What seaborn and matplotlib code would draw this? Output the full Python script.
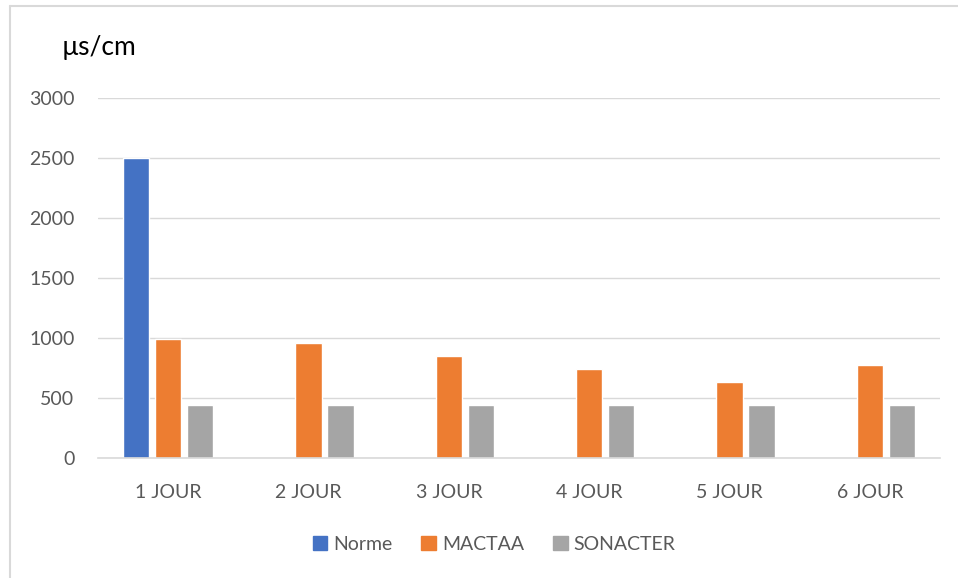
import matplotlib
matplotlib.use("Agg")
import matplotlib.pyplot as plt
from matplotlib.lines import Line2D
import numpy as np
import pandas as pd
import seaborn as sns

days = ["1 JOUR", "2 JOUR", "3 JOUR", "4 JOUR", "5 JOUR", "6 JOUR"]
norme = [2500, np.nan, np.nan, np.nan, np.nan, np.nan]
mactaa = [990, 955, 850, 740, 635, 775]
sonacter = [440, 440, 440, 440, 440, 440]

series = ["Norme", "MACTAA", "SONACTER"]
colors = ["#4472C4", "#ED7D31", "#A5A5A5"]

df = pd.DataFrame({"jour": days * 3,
                   "serie": np.repeat(series, len(days)),
                   "valeur": norme + mactaa + sonacter})

sns.set_theme(style="white")
plt.rcParams["font.family"] = ["Lato", "DejaVu Sans"]

fig = plt.figure(figsize=(9.58, 5.78), dpi=100)
ax = fig.add_axes([98 / 958, 120 / 578, 842 / 958, 360 / 578])

sns.barplot(data=df, x="jour", y="valeur", hue="serie", hue_order=series,
            palette=colors, width=0.685, gap=0.18, saturation=1,
            ax=ax, legend=False)

ax.set_ylim(0, 3000)
ax.set_yticks(range(0, 3001, 500))
ax.set_xlim(-0.5, 5.5)
ax.yaxis.grid(True, color="#d9d9d9", linewidth=1)
ax.set_axisbelow(True)
for s in ["top", "right", "left"]:
    ax.spines[s].set_visible(False)
ax.spines["bottom"].set_color("#d9d9d9")
ax.spines["bottom"].set_linewidth(1.2)
ax.set_xlabel("")
ax.set_ylabel("")
ax.tick_params(axis="both", length=0, labelsize=14, labelcolor="#595959")
ax.tick_params(axis="y", pad=17)
ax.tick_params(axis="x", pad=19)

fig.text(62 / 958, 1 - 47 / 578, "µs/cm", fontsize=19, color="black",
         va="center", ha="left")

handles = [plt.Rectangle((0, 0), 1, 1, color=c) for c in colors]
fig.legend(handles, series, loc="center", bbox_to_anchor=(494 / 958, 1 - 544 / 578),
           ncol=3, frameon=False, fontsize=14, labelcolor="#595959",
           handlelength=0.75, handleheight=0.75, handletextpad=0.3, columnspacing=1.5)

# outer chart border (top and left only visible)
fig.add_artist(Line2D([10 / 958, 10 / 958], [0, 1 - 5.5 / 578],
                      transform=fig.transFigure, color="#d9d9d9", linewidth=1.5))
fig.add_artist(Line2D([10 / 958, 1], [1 - 5.5 / 578, 1 - 5.5 / 578],
                      transform=fig.transFigure, color="#d9d9d9", linewidth=1.5))

fig.savefig("out.png", dpi=100, facecolor="white")
